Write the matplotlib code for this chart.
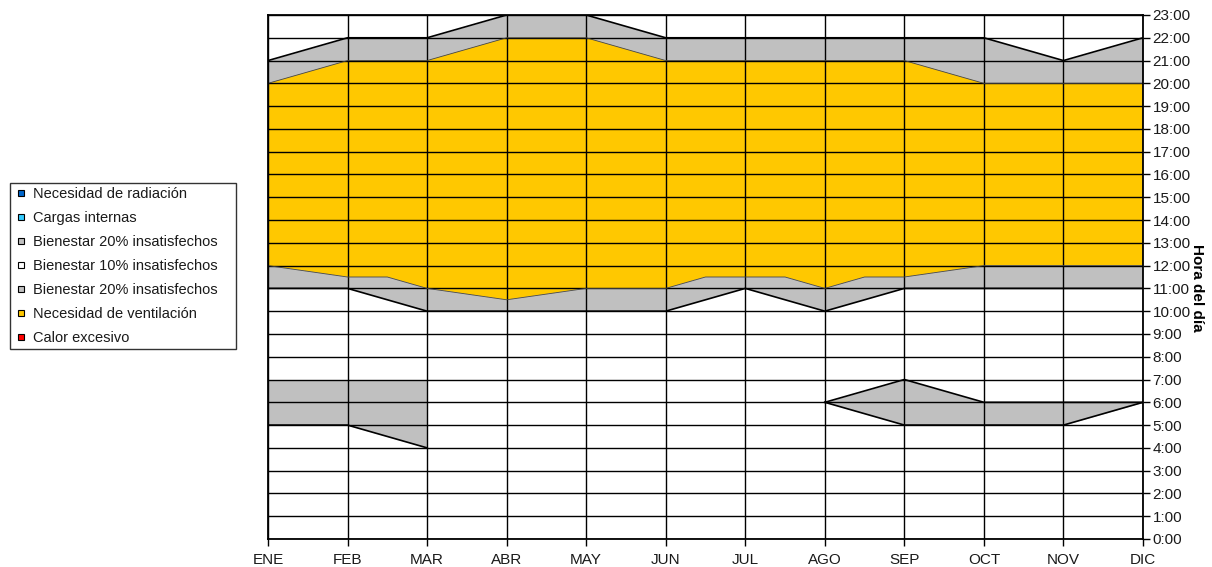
import matplotlib
matplotlib.use("Agg")
import matplotlib.pyplot as plt
from matplotlib.lines import Line2D
import numpy as np

plt.rcParams['font.family'] = ['Liberation Sans', 'DejaVu Sans']

months = ['ENE', 'FEB', 'MAR', 'ABR', 'MAY', 'JUN', 'JUL', 'AGO', 'SEP', 'OCT', 'NOV', 'DIC']
hour_labels = [f"{h}:00" for h in range(24)]

# Upper boundary of the upper "Bienestar 20%" band (start of excessive heat)
upper_band_top = [21, 22, 22, 23, 23, 22, 22, 22, 22, 22, 21, 22]
# Upper boundary of ventilation need
vent_top = [20, 21, 21, 22, 22, 21, 21, 21, 21, 20, 20, 20]
# Lower boundary of ventilation need (half-month points where visible)
vent_bottom_x = [0, 1, 1.5, 2, 3, 4, 5, 5.5, 6.5, 7, 7.5, 8, 9, 10, 11]
vent_bottom_y = [12, 11.5, 11.5, 11, 10.5, 11, 11, 11.5, 11.5, 11, 11.5, 11.5, 12, 12, 12]
# Lower boundary of the lower "Bienestar 20%" band
lower_band_bottom = [11, 11, 10, 10, 10, 10, 11, 10, 11, 11, 11, 11]
# Morning "Bienestar 20%" bands
morning1_x = [0, 1, 2]
morning1_top = [7, 7, 7]
morning1_bottom = [5, 5, 4]
morning2_x = [7, 8, 9, 10, 11]
morning2_top = [6, 7, 6, 6, 6]
morning2_bottom = [6, 5, 5, 5, 6]

legend_labels = ['Necesidad de radiación', 'Cargas internas', 'Bienestar 20% insatisfechos',
                 'Bienestar 10% insatisfechos', 'Bienestar 20% insatisfechos',
                 'Necesidad de ventilación', 'Calor excesivo']
legend_colors = ['#0066CC', '#33CCFF', '#C0C0C0', '#FFFFFF', '#C0C0C0', '#FFC800', '#FF0000']

GRAY = '#C0C0C0'
YELLOW = '#FFC800'
TXT = '#1a1a1a'

fig = plt.figure(figsize=(12.12, 5.67), dpi=100)
ax = fig.add_axes([268/1212, 1-539/567, (1143-268)/1212, (539-15)/567])

xm = np.arange(12)

# upper gray band
ax.fill_between(xm, vent_top, upper_band_top, color=GRAY, lw=0, zorder=1)
# yellow ventilation area (polygon between two boundaries)
poly_x = list(xm) + vent_bottom_x[::-1]
poly_y = list(vent_top) + vent_bottom_y[::-1]
ax.fill(poly_x, poly_y, color=YELLOW, lw=0, zorder=1)
# lower gray band
poly_x2 = vent_bottom_x + list(xm[::-1])
poly_y2 = vent_bottom_y + list(lower_band_bottom[::-1])
ax.fill(poly_x2, poly_y2, color=GRAY, lw=0, zorder=1)
# morning bands
ax.fill_between(morning1_x, morning1_bottom, morning1_top, color=GRAY, lw=0, zorder=1)
ax.fill_between(morning2_x, morning2_bottom, morning2_top, color=GRAY, lw=0, zorder=1)

# grid
for h in range(24):
    ax.axhline(h, color='black', lw=1.0, zorder=2)
for m in range(12):
    ax.axvline(m, color='black', lw=1.0, zorder=2)

# boundary lines
ax.plot(xm, upper_band_top, color='black', lw=1.2, zorder=3)
ax.plot(xm, lower_band_bottom, color='black', lw=1.2, zorder=3)
ax.plot(xm, vent_top, color='#444444', lw=0.6, zorder=3)
ax.plot(vent_bottom_x, vent_bottom_y, color='#444444', lw=0.6, zorder=3)
ax.plot(morning1_x, morning1_bottom, color='black', lw=1.2, zorder=3)
ax.plot(morning2_x, morning2_bottom, color='black', lw=1.2, zorder=3)
ax.plot(morning2_x, morning2_top, color='black', lw=1.2, zorder=3)

ax.set_xlim(0, 11)
ax.set_ylim(0, 23)
ax.set_xticks(xm)
ax.set_xticklabels(months, fontsize=11, color=TXT)
ax.yaxis.tick_right()
ax.yaxis.set_label_position('right')
ax.set_yticks(range(24))
ax.set_yticklabels(hour_labels, fontsize=11, color=TXT)
ax.tick_params(axis='both', direction='out', length=5, width=1)
ax.tick_params(axis='x', pad=5)
ax.tick_params(axis='y', pad=2)
ax.set_ylabel('Hora del día', rotation=270, fontsize=11, fontweight='bold', va='center', ha='center')
ax.yaxis.set_label_coords((1197-268)/875, (539-288)/524)
for s in ax.spines.values():
    s.set_linewidth(1.3)
    s.set_zorder(4)

handles = [Line2D([], [], ls='none', marker='s', markersize=4, markerfacecolor=c,
                  markeredgecolor='black', markeredgewidth=0.8) for c in legend_colors]
leg = fig.legend(handles, legend_labels, loc='upper left',
                 bbox_to_anchor=(10/1212, 1-183/567, (236-10)/1212, 0), mode='expand',
                 fontsize=10.5, borderaxespad=0,
                 handlelength=0.97, handletextpad=0.3,
                 labelspacing=0.68, borderpad=0.3, frameon=True, fancybox=False)
leg.get_frame().set_edgecolor('black')
leg.get_frame().set_linewidth(1.0)
for t in leg.get_texts():
    t.set_color(TXT)

fig.savefig('out.png', dpi=100)
